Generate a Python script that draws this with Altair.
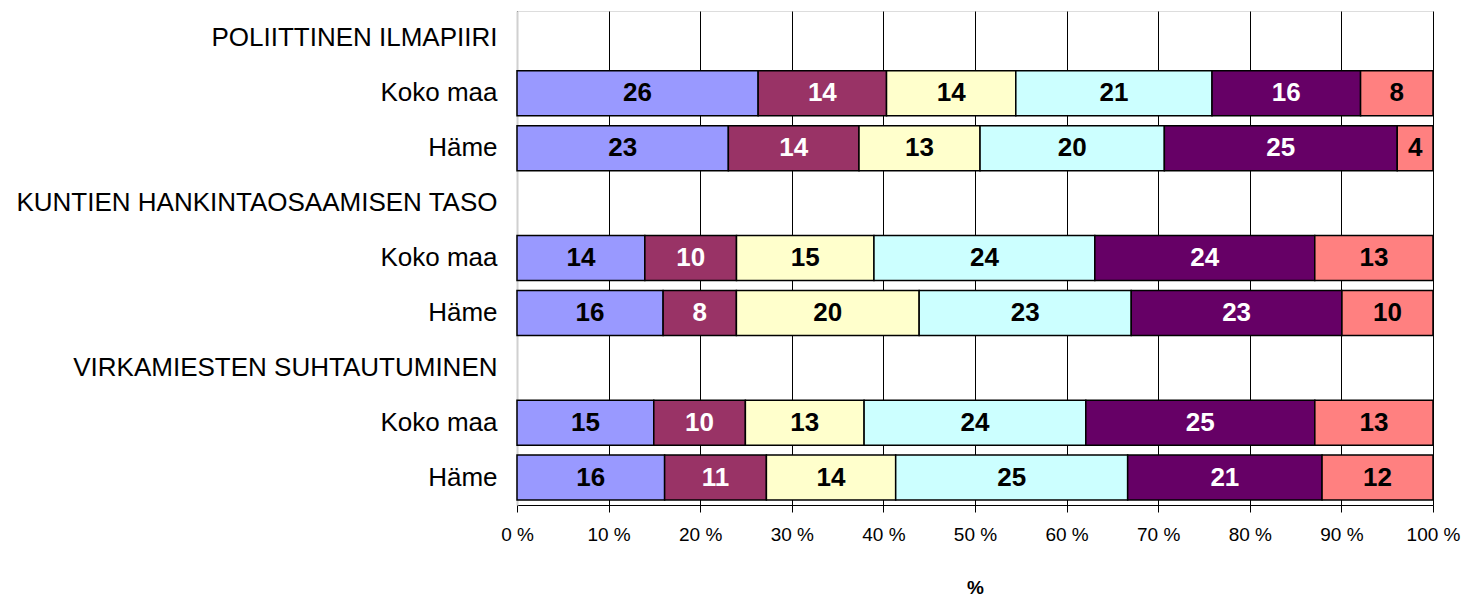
import altair as alt
import pandas as pd

row_labels = ["POLIITTINEN ILMAPIIRI", "Koko maa", "Häme",
              "KUNTIEN HANKINTAOSAAMISEN TASO", "Koko maa", "Häme",
              "VIRKAMIESTEN SUHTAUTUMINEN", "Koko maa", "Häme"]
bar_rows = [1, 2, 4, 5, 7, 8]
categories = ["1", "2", "3", "4", "5", "6"]
colors = ["#9999FF", "#993366", "#FFFFCC", "#CCFFFF", "#660066", "#FF8080"]
text_colors = ["black", "white", "black", "black", "white", "black"]

values = [
    [26.3, 14.0, 14.1, 21.4, 16.2, 7.9],
    [23.05, 14.25, 13.2, 20.1, 25.4, 3.9],
    [13.95, 10.0, 15.0, 24.1, 24.0, 12.9],
    [15.95, 8.0, 19.95, 23.15, 23.0, 9.94],
    [14.93, 10.0, 12.96, 24.2, 25.0, 12.9],
    [16.1, 11.1, 14.1, 25.3, 21.2, 12.1],
]

recs = []
for r, vals in zip(bar_rows, values):
    for i, (c, v) in enumerate(zip(categories, vals)):
        recs.append({"row": str(r), "cat": c, "order": i, "value": v,
                     "tc": text_colors[i]})
df = pd.DataFrame(recs)

row_domain = [str(i) for i in range(len(row_labels))]
label_arr = "[" + ",".join("'" + s + "'" for s in row_labels) + "]"

FONT = "Liberation Sans"

base = alt.Chart(df).transform_joinaggregate(
    total="sum(value)", groupby=["row"]
).transform_calculate(
    pct="datum.value / datum.total"
).transform_stack(
    stack="pct", groupby=["row"], as_=["start", "end"],
    sort=[alt.SortField("order", order="ascending")]
).transform_calculate(
    mid="(datum.start + datum.end) / 2"
)

y_scale = alt.Scale(domain=row_domain, paddingInner=0.18, paddingOuter=0.09)

y_enc = alt.Y("row:N", scale=y_scale,
              axis=alt.Axis(title=None, labelExpr=label_arr + "[toNumber(datum.value)]",
                            labelFont=FONT, labelFontSize=26, labelColor="black",
                            labelLimit=1000, labelPadding=20, ticks=False,
                            domain=True, domainColor="#d0d0d0", domainWidth=2))

bars = base.mark_bar(stroke="black", strokeWidth=1.5).encode(
    x=alt.X("start:Q", scale=alt.Scale(domain=[0, 1], nice=False),
            axis=alt.Axis(title="%", values=[i / 10 for i in range(11)],
                          labelExpr="round(datum.value*100) + ' %'",
                          labelFont=FONT, labelFontSize=19, labelColor="black",
                          labelPadding=13, tickSize=7, tickColor="black",
                          domainColor="black", gridColor="black", gridWidth=1,
                          titleFont=FONT, titleFontSize=19, titleFontWeight="bold",
                          titleColor="black", titlePadding=34, labelFlush=False)),
    x2="end:Q",
    y=y_enc,
    color=alt.Color("cat:N", scale=alt.Scale(domain=categories, range=colors), legend=None),
)

texts = base.mark_text(font=FONT, fontSize=26, fontWeight="bold", baseline="middle",
                       align="center").encode(
    x="mid:Q",
    y=alt.Y("row:N", scale=y_scale),
    text=alt.Text("value:Q", format=".0f"),
    color=alt.Color("tc:N", scale=None),
)

chart = alt.layer(bars, texts).properties(
    width=916, height=494,
    autosize=alt.AutoSizeParams(type="none"),
    padding={"left": 509, "top": 3, "right": 30, "bottom": 102},
).configure_view(stroke="#888888", strokeWidth=2).configure(background="white")

chart.save("out.html", embed_options={"renderer": "svg", "actions": False})
